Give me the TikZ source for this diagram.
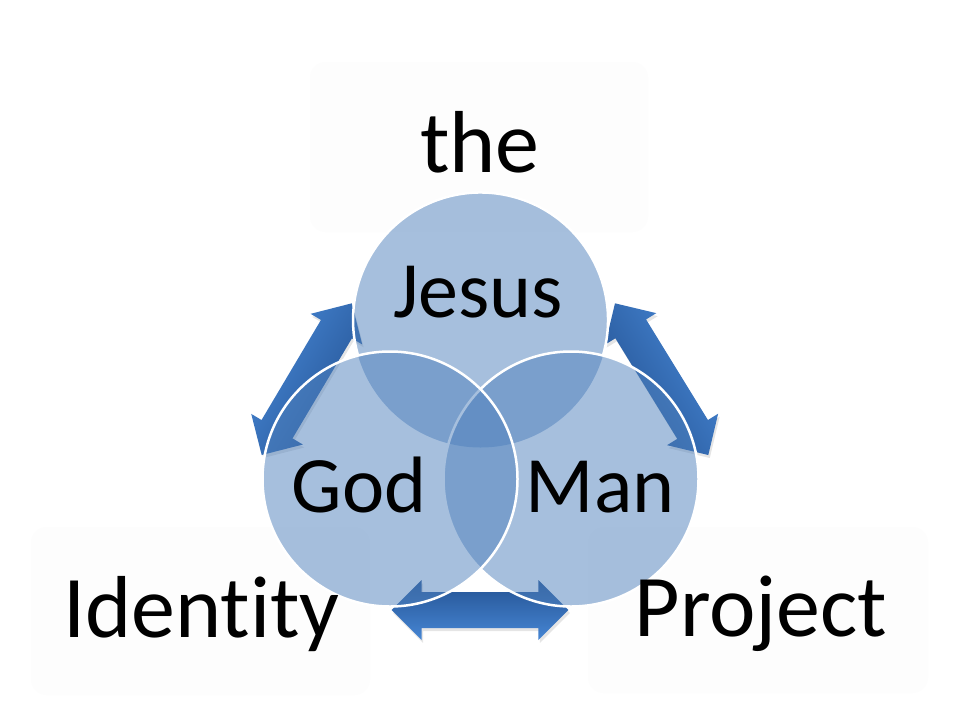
\documentclass[tikz,border=0pt]{standalone}
\usepackage{fontspec}
\setmainfont{Carlito}[Ligatures={NoCommon}]
\usetikzlibrary{calc}
\definecolor{vennblue}{RGB}{79,129,189}
\definecolor{arrlight}{RGB}{70,134,212}
\definecolor{arrdark}{RGB}{36,82,146}
\definecolor{panel}{RGB}{253,253,253}
\tikzset{
  vennset/.style={circle, minimum size=255pt, inner sep=0pt, outer sep=0pt, fill=vennblue, fill opacity=0.5},
  vennline/.style={draw=white, line width=2.5pt},
  bigtext/.style={font=\fontsize{88}{100}\selectfont, anchor=base, inner sep=0pt},
  settext/.style={font=\fontsize{80}{90}\selectfont, anchor=base, inner sep=0pt},
  panelbox/.style={fill=panel, rounded corners=16pt},
}
% #1,#2 start tip, #3 direction angle, #4 length, #5 shading options
\newcommand\blockarrow[5]{%
  \begin{scope}[shift={(#1+1.5,#2+3)}, rotate=#3]
    \fill[black, opacity=0.10] (0,0) -- (30,-30) -- (30,-18) -- (#4-30,-18) -- (#4-30,-30) -- (#4,0) -- (#4-30,30) -- (#4-30,18) -- (30,18) -- (30,30) -- cycle;
  \end{scope}
  \begin{scope}[shift={(#1,#2)}, rotate=#3]
    \shade[#5] (0,0) -- (30,-30) -- (30,-18) -- (#4-30,-18) -- (#4-30,-30) -- (#4,0) -- (#4-30,30) -- (#4-30,18) -- (30,18) -- (30,30) -- cycle;
  \end{scope}}
\begin{document}
\begin{tikzpicture}[x=1pt, y=-1pt]
  \useasboundingbox (0,0) rectangle (960,720);
  \fill[white] (0,0) rectangle (960,720);
  % faint panels
  \fill[panelbox] (310,62) rectangle (648,232);
  \fill[panelbox] (31,527) rectangle (370,695);
  \fill[panelbox] (588,527) rectangle (928,693);
  % block arrows
  \blockarrow{261.7}{455}{59.3}{176.4}{top color=arrlight, bottom color=arrdark, shading angle=59.3}
  \blockarrow{708.3}{455}{121.6}{178.1}{top color=arrlight, bottom color=arrdark, shading angle=-58.4}
  \blockarrow{568.3}{610}{180}{176.6}{top color=arrdark, bottom color=arrlight}
  % venn circles
  \node[vennset] (jesus) at (480.5,320) {};
  \node[vennset, vennline] (man) at (571,479) {};
  \node[vennset, vennline] (god) at (390,479) {};
  \draw[white, line width=2.5pt] (jesus.center) ++(16.2:127.5) arc[start angle=16.2, end angle=-196.2, radius=127.5];
  % labels
  \node[settext] (tjesus) at (478,317) {Jesus};
  \node[settext] (tgod) at (359,512) {God};
  \node[settext] (tman) at (600,512) {Man};
  \node[bigtext] (tthe) at (480,172) {the};
  \node[bigtext] (tidentity) at (201.5,637) {Identity};
  \node[bigtext] (tproject) at (761,636) {Project};
\end{tikzpicture}
\end{document}
